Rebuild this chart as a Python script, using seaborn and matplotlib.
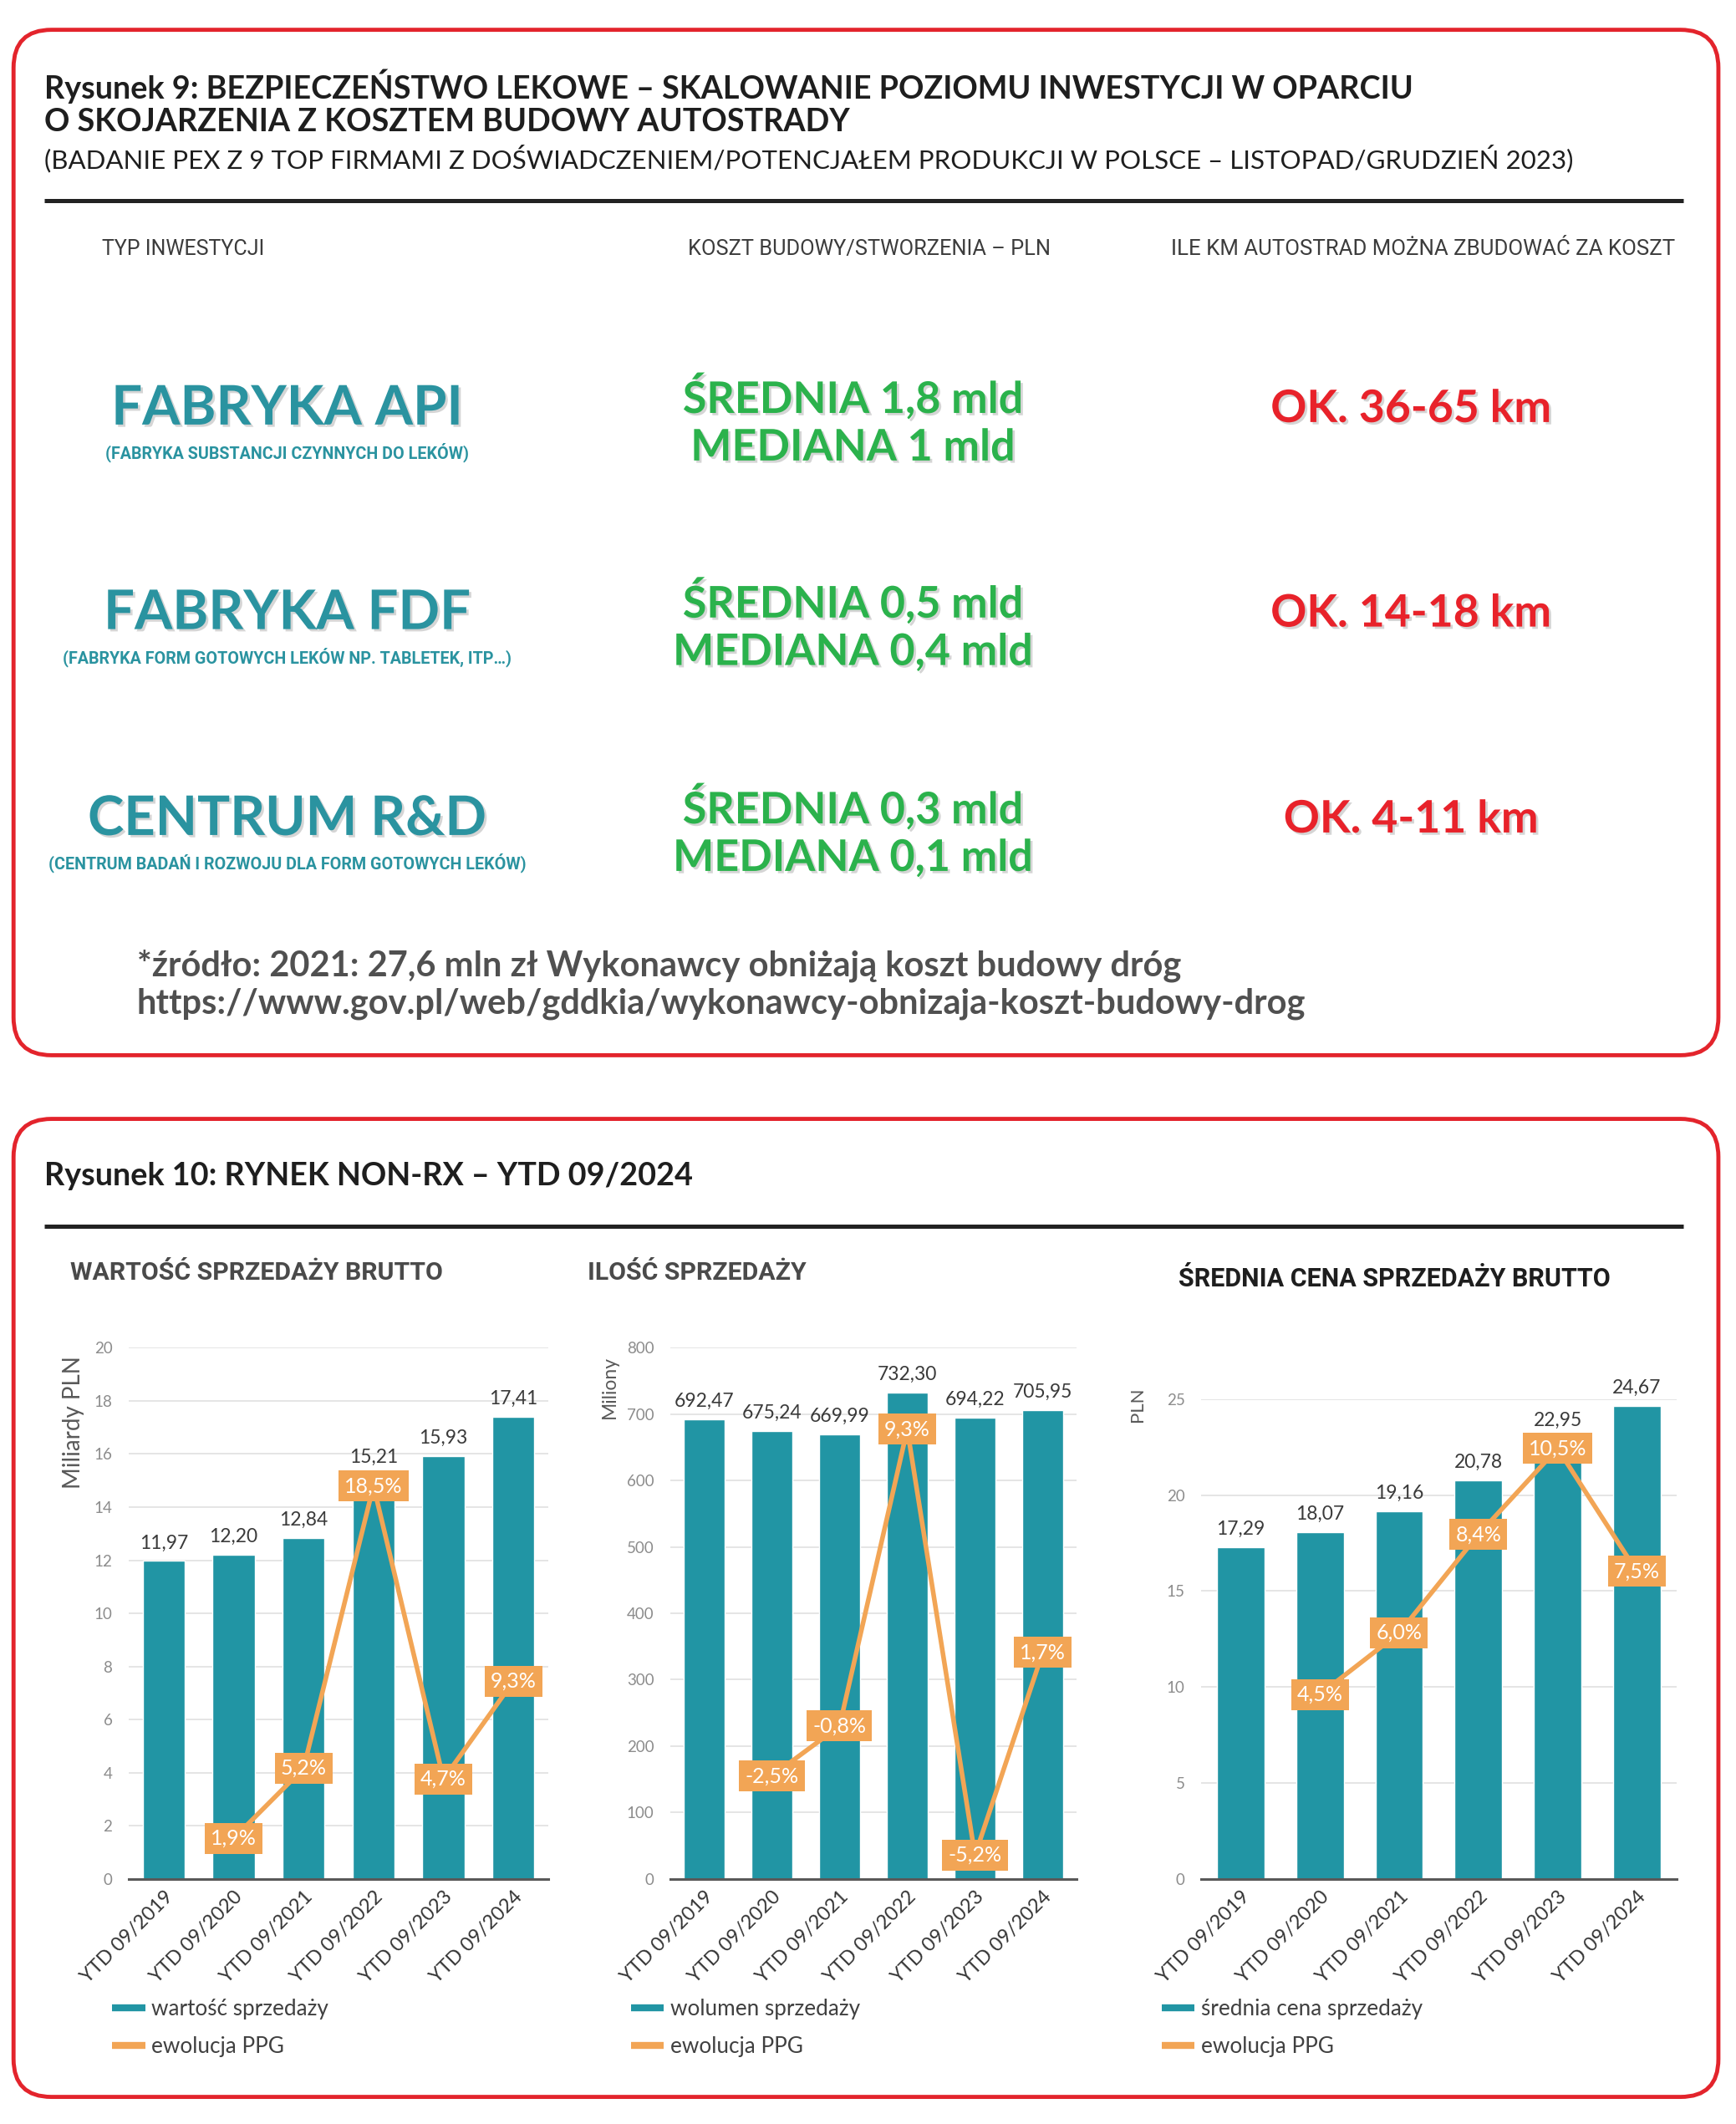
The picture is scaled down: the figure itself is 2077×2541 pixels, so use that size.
import numpy as np
import matplotlib
matplotlib.use("Agg")
import matplotlib.pyplot as plt
import matplotlib.patheffects as pe
from matplotlib.patches import FancyBboxPatch
from matplotlib.lines import Line2D
import seaborn as sns

# values
years = ["YTD 09/2019", "YTD 09/2020", "YTD 09/2021", "YTD 09/2022", "YTD 09/2023", "YTD 09/2024"]
sales_value = [11.97, 12.20, 12.84, 15.21, 15.93, 17.41]
sales_value_ppg = [np.nan, 1.9, 5.2, 18.5, 4.7, 9.3]
sales_volume = [692.47, 675.24, 669.99, 732.30, 694.22, 705.95]
sales_volume_ppg = [np.nan, -2.5, -0.8, 9.3, -5.2, 1.7]
avg_price = [17.29, 18.07, 19.16, 20.78, 22.95, 24.67]
avg_price_ppg = [np.nan, 4.5, 6.0, 8.4, 10.5, 7.5]

invest_types = ["FABRYKA API", "FABRYKA FDF", "CENTRUM R&D"]
invest_notes = ["(FABRYKA SUBSTANCJI CZYNNYCH DO LEKÓW)",
                "(FABRYKA FORM GOTOWYCH LEKÓW NP. TABLETEK, ITP…)",
                "(CENTRUM BADAŃ I ROZWOJU DLA FORM GOTOWYCH LEKÓW)"]
cost_mean = ["ŚREDNIA 1,8 mld", "ŚREDNIA 0,5 mld", "ŚREDNIA 0,3 mld"]
cost_median = ["MEDIANA 1 mld", "MEDIANA 0,4 mld", "MEDIANA 0,1 mld"]
km_range = ["OK. 36-65 km", "OK. 14-18 km", "OK. 4-11 km"]

TEAL = "#2195a4"
ORANGE = "#f2a555"
GREEN = "#2bb24c"
RED = "#e8222a"
BORDER = "#e3242c"
GRID = "#e3e3e3"

sns.set_theme(style="white")
plt.rcParams["font.family"] = ["Lato", "DejaVu Sans"]

fig = plt.figure(figsize=(20.77, 25.41), dpi=100)

# background axes in reference pixel units (1282 x 1568)
W, H = 1282, 1568
bg = fig.add_axes([0, 0, 1, 1])
bg.set_xlim(0, W)
bg.set_ylim(H, 0)
bg.axis("off")


def rect_to_fig(x0, y0, x1, y1):
    return [x0 / W, 1 - y1 / H, (x1 - x0) / W, (y1 - y0) / H]


shadow = [pe.withSimplePatchShadow(offset=(2, -2), shadow_rgbFace="#888888", alpha=0.35)]

# panels
for top, bottom in [(22, 779), (826, 1548)]:
    bg.add_patch(FancyBboxPatch((10, top), 1259, bottom - top,
                                boxstyle="round,pad=0,rounding_size=28",
                                fc="none", ec=BORDER, lw=3.5))

# --- panel 1 ---
bg.text(33, 64, "Rysunek 9: BEZPIECZEŃSTWO LEKOWE – SKALOWANIE POZIOMU INWESTYCJI W OPARCIU",
        fontsize=27.2, weight="bold", color="#1e1e1e", va="center")
bg.text(33, 90, "O SKOJARZENIA Z KOSZTEM BUDOWY AUTOSTRADY",
        fontsize=27.2, weight="bold", color="#1e1e1e", va="center")
bg.text(33, 117, "(BADANIE PEX Z 9 TOP FIRMAMI Z DOŚWIADCZENIEM/POTENCJAŁEM PRODUKCJI W POLSCE – LISTOPAD/GRUDZIEŃ 2023)",
        fontsize=22.5, color="#1e1e1e", va="center")
bg.plot([33, 1243], [148, 148], color="#222222", lw=3.6, solid_capstyle="butt")

bg.text(75, 184, "TYP INWESTYCJI", fontsize=18, family="Roboto", color="#3c3c3c", va="center")
bg.text(508, 184, "KOSZT BUDOWY/STWORZENIA – PLN", fontsize=18.3, family="Roboto", color="#3c3c3c", va="center")
bg.text(865, 184, "ILE KM AUTOSTRAD MOŻNA ZBUDOWAĆ ZA KOSZT", fontsize=18.6, family="Roboto",
        color="#3c3c3c", va="center")

row_y = [302, 453, 605]
for i in range(3):
    y = row_y[i]
    bg.text(212, y, invest_types[i], fontsize=47, weight="bold", color="#2a93a0",
            ha="center", va="center", path_effects=shadow)
    bg.text(212, y + 32, invest_notes[i], fontsize=14.2, weight="bold", family="Roboto",
            color="#2a93a0", ha="center", va="center")
    bg.text(630, y - 9, cost_mean[i], fontsize=37.5, weight="bold", color=GREEN,
            ha="center", va="center", path_effects=shadow)
    bg.text(630, y + 29, cost_median[i], fontsize=37.5, weight="bold", color=GREEN,
            ha="center", va="center", path_effects=shadow)
    bg.text(1042, y, km_range[i], fontsize=38.5, weight="bold", color=RED,
            ha="center", va="center", path_effects=shadow)

bg.text(101, 713, "*źródło: 2021: 27,6 mln zł Wykonawcy obniżają koszt budowy dróg",
        fontsize=30, weight="bold", color="#505050", va="center")
bg.text(101, 741, "https://www.gov.pl/web/gddkia/wykonawcy-obnizaja-koszt-budowy-drog",
        fontsize=30, weight="bold", color="#505050", va="center")

# --- panel 2 ---
bg.text(33, 868, "Rysunek 10: RYNEK NON-RX – YTD 09/2024", fontsize=27.2, weight="bold",
        color="#1e1e1e", va="center")
bg.plot([33, 1243], [905, 905], color="#222222", lw=3.6, solid_capstyle="butt")

bg.text(52, 940, "WARTOŚĆ SPRZEDAŻY BRUTTO", fontsize=21.8, weight="bold", family="Roboto",
        color="#4a4a4a", va="center")
bg.text(434, 940, "ILOŚĆ SPRZEDAŻY", fontsize=21.8, weight="bold", family="Roboto",
        color="#4a4a4a", va="center")
bg.text(870, 944, "ŚREDNIA CENA SPRZEDAŻY BRUTTO", fontsize=22, weight="bold", family="Roboto",
        color="#1e1e1e", va="center")


def bar_line_chart(box, values, ppg, ylim, ystep, ppg_lim, ylabel, ylabel_xy, ylabel_size,
                   legend_label, legend_xy):
    ax = fig.add_axes(rect_to_fig(*box))
    sns.barplot(x=years, y=values, color=TEAL, saturation=1, width=0.6, ax=ax, zorder=2)
    ax.set_ylim(*ylim)
    ax.set_yticks(np.arange(ylim[0], ylim[1] + ystep / 2, ystep))
    ax.yaxis.grid(True, color=GRID, lw=1.3)
    ax.set_axisbelow(True)
    for side in ["top", "right", "left"]:
        ax.spines[side].set_visible(False)
    ax.spines["bottom"].set_color("#595959")
    ax.spines["bottom"].set_linewidth(2.2)
    ax.tick_params(axis="y", length=0, pad=14, labelsize=13.5, labelcolor="#8c8c8c")
    ax.tick_params(axis="x", length=0, pad=8, labelsize=17, labelcolor="#333333")
    plt.setp(ax.get_xticklabels(), rotation=45, ha="right", rotation_mode="anchor")
    ax.set_xlabel("")
    ax.set_ylabel("")
    ax.text(ylabel_xy[0], ylabel_xy[1], ylabel, transform=ax.transAxes, rotation=90,
            ha="center", va="top", fontsize=ylabel_size, color="#595959")
    for i, v in enumerate(values):
        ax.annotate(f"{v:.2f}".replace(".", ","), (i, v), xytext=(0, 8), textcoords="offset points",
                    ha="center", va="bottom", fontsize=16.5, color="#3a3a3a")

    ax2 = ax.twinx()
    idx = np.arange(len(years))
    sns.lineplot(x=idx, y=ppg, color=ORANGE, lw=4, ax=ax2)
    ax2.set_ylim(*ppg_lim)
    ax2.set_axis_off()
    ax.set_xlim(-0.5, len(years) - 0.5)
    for i, p in enumerate(ppg):
        if np.isnan(p):
            continue
        ax2.text(i, p, f"{p:.1f}%".replace(".", ","), ha="center", va="center",
                 fontsize=18, color="white",
                 bbox=dict(boxstyle="square,pad=0.28", fc=ORANGE, ec="none"))

    handles = [Line2D([], [], color=TEAL, lw=6, solid_capstyle="butt"),
               Line2D([], [], color=ORANGE, lw=6, solid_capstyle="butt")]
    fig.legend(handles, [legend_label, "ewolucja PPG"], loc="center left",
               bbox_to_anchor=(legend_xy[0] / W, 1 - legend_xy[1] / H), frameon=False,
               fontsize=18.8, handlelength=1.5, handletextpad=0.3, labelspacing=0.75,
               borderpad=0, borderaxespad=0, labelcolor="#404040")
    return ax


bar_line_chart((95, 995, 405, 1387), sales_value, sales_value_ppg, (0, 20), 2, (0, 25),
               "Miliardy PLN", (-0.132, 0.985), 20, "wartość sprzedaży", (83, 1497))
bar_line_chart((495, 995, 795, 1387), sales_volume, sales_volume_ppg, (0, 800), 100, (-6, 12.07),
               "Miliony", (-0.15, 0.985), 16.5, "wolumen sprzedaży", (466, 1497))
bar_line_chart((887, 1033, 1238, 1387), avg_price, avg_price_ppg, (0, 25), 5, (0, 11.7),
               "PLN", (-0.134, 1.025), 16, "średnia cena sprzedaży", (858, 1497))

fig.savefig("out.png", dpi=100)
